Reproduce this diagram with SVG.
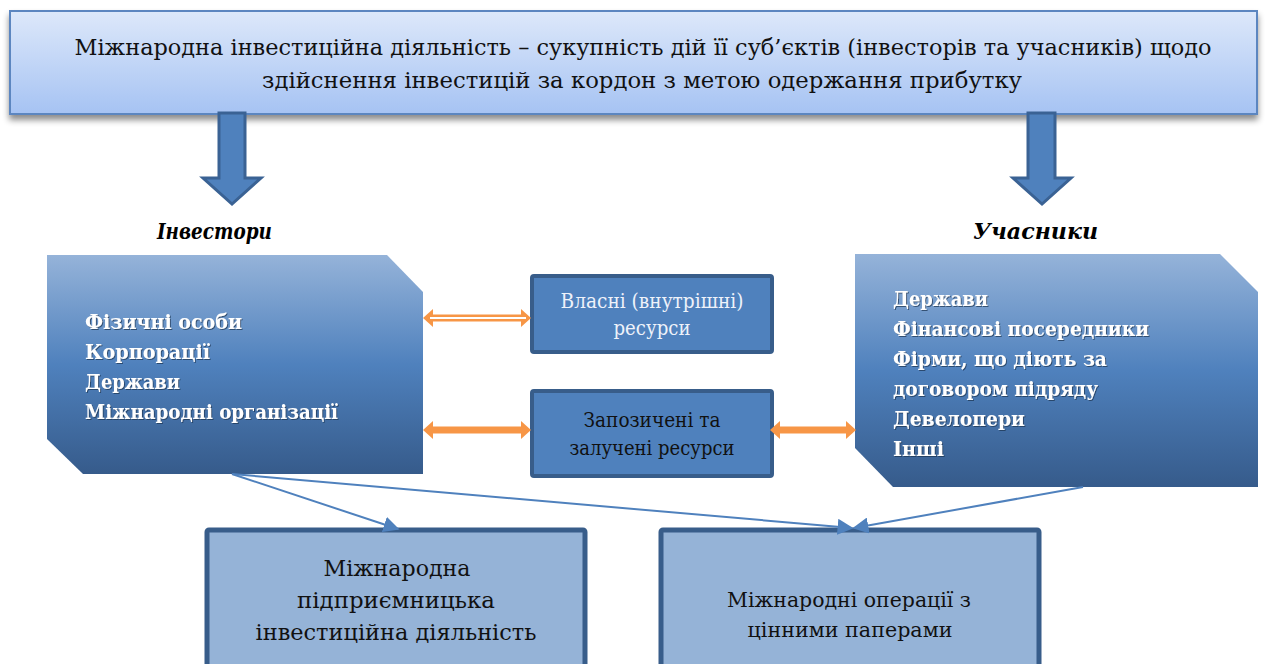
<svg xmlns="http://www.w3.org/2000/svg" width="1266" height="664" viewBox="0 0 1266 664">
<defs>
<linearGradient id="gTop" x1="0" y1="0" x2="0" y2="1">
<stop offset="0" stop-color="#dde8fa"/>
<stop offset="1" stop-color="#a6c3f3"/>
</linearGradient>
<linearGradient id="gSide" x1="0" y1="0" x2="0" y2="1">
<stop offset="0" stop-color="#95b3d9"/>
<stop offset="0.5" stop-color="#4f81bd"/>
<stop offset="1" stop-color="#365b8b"/>
</linearGradient>
<filter id="sh" x="-5%" y="-20%" width="110%" height="150%">
<feDropShadow dx="0" dy="5" stdDeviation="3" flood-color="#000" flood-opacity="0.45"/>
</filter>
<filter id="tsh" x="-5%" y="-20%" width="110%" height="150%">
<feDropShadow dx="1" dy="1" stdDeviation="0.6" flood-color="#1f3350" flood-opacity="0.7"/>
</filter>
<marker id="ah" viewBox="0 0 10 10" refX="9" refY="5" markerWidth="16" markerHeight="16" markerUnits="userSpaceOnUse" orient="auto">
<path d="M0,0 L10,5 L0,10 Z" fill="#4f81bd"/>
</marker>
</defs>
<style>
text{font-family:"DejaVu Serif","Liberation Serif",serif;}
.down{fill:#4f81bd;stroke:#3a6294;stroke-width:3;stroke-linejoin:miter;}
.side{fill:url(#gSide);}
.mid{fill:#4f81bd;stroke:#385d8a;stroke-width:4;}
.bot{fill:#95b3d7;stroke:#385d8a;stroke-width:5;}
.orange{stroke:#f79646;stroke-width:7;fill:none;stroke-linecap:round;}
.con{stroke:#4f81bd;stroke-width:2;fill:none;}
.sidetxt{font-weight:bold;font-size:21px;fill:#ffffff;}
.head{font-weight:bold;font-style:italic;font-size:23px;fill:#000;}
</style>

<g id="top">
<rect x="10" y="11" width="1247" height="103" fill="url(#gTop)" stroke="#5b86c0" stroke-width="2" filter="url(#sh)"/>
<text font-size="22" fill="#111" text-anchor="middle" x="643" y="55" textLength="1137" lengthAdjust="spacingAndGlyphs">Міжнародна інвестиційна діяльність – сукупність дій її суб’єктів (інвесторів та учасників) щодо</text>
<text font-size="22" fill="#111" text-anchor="middle" x="642" y="88" textLength="760" lengthAdjust="spacingAndGlyphs">здійснення інвестицій за кордон з метою одержання прибутку</text>
</g>

<g id="arrow-left">
<path class="down" d="M219,113 L245,113 L245,178 L261,178 L232,204 L203,178 L219,178 Z"/>
</g>
<g id="arrow-right">
<path class="down" d="M1028,113 L1055,113 L1055,178 L1071,178 L1042,204 L1013,178 L1028,178 Z"/>
</g>

<g id="label-investors">
<text class="head" x="157" y="239" textLength="115" lengthAdjust="spacingAndGlyphs">Інвестори</text>
</g>
<g id="label-participants">
<text class="head" x="973" y="239" textLength="125" lengthAdjust="spacingAndGlyphs">Учасники</text>
</g>

<g id="investors">
<path class="side" d="M47,255 L387,255 L423,292 L423,474 L83,474 L47,439 Z"/>
<g class="sidetxt" filter="url(#tsh)">
<text x="85" y="329" textLength="157" lengthAdjust="spacingAndGlyphs">Фізичні особи</text>
<text x="85" y="359" textLength="125" lengthAdjust="spacingAndGlyphs">Корпорації</text>
<text x="85" y="389" textLength="95" lengthAdjust="spacingAndGlyphs">Держави</text>
<text x="85" y="419" textLength="253" lengthAdjust="spacingAndGlyphs">Міжнародні організації</text>
</g>
</g>

<g id="participants">
<path class="side" d="M855,254 L1220,254 L1258,292 L1258,487 L893,487 L855,448 Z"/>
<g class="sidetxt" filter="url(#tsh)">
<text x="893" y="306" textLength="95" lengthAdjust="spacingAndGlyphs">Держави</text>
<text x="893" y="336" textLength="256" lengthAdjust="spacingAndGlyphs">Фінансові посередники</text>
<text x="893" y="366" textLength="214" lengthAdjust="spacingAndGlyphs">Фірми, що діють за</text>
<text x="893" y="396" textLength="205" lengthAdjust="spacingAndGlyphs">договором підряду</text>
<text x="893" y="426" textLength="132" lengthAdjust="spacingAndGlyphs">Девелопери</text>
<text x="893" y="456" textLength="51" lengthAdjust="spacingAndGlyphs">Інші</text>
</g>
</g>

<g id="own-resources">
<rect class="mid" x="532" y="276" width="240" height="76" rx="2"/>
<g font-size="20" fill="#eef2fa" text-anchor="middle">
<text x="652" y="308" textLength="183" lengthAdjust="spacingAndGlyphs">Власні (внутрішні)</text>
<text x="652" y="335" textLength="77" lengthAdjust="spacingAndGlyphs">ресурси</text>
</g>
</g>

<g id="borrowed-resources">
<rect class="mid" x="532" y="391" width="240" height="85" rx="2"/>
<g font-size="20" fill="#111" text-anchor="middle">
<text x="652" y="427" textLength="137" lengthAdjust="spacingAndGlyphs">Запозичені та</text>
<text x="652" y="455" textLength="165" lengthAdjust="spacingAndGlyphs">залучені ресурси</text>
</g>
</g>

<g id="entrepreneurial">
<rect class="bot" x="207" y="530" width="378" height="150" rx="2"/>
<g font-size="23" fill="#111" text-anchor="middle">
<text x="397" y="576" textLength="147" lengthAdjust="spacingAndGlyphs">Міжнародна</text>
<text x="396" y="608" textLength="198" lengthAdjust="spacingAndGlyphs">підприємницька</text>
<text x="396" y="640" textLength="281" lengthAdjust="spacingAndGlyphs">інвестиційна діяльність</text>
</g>
</g>

<g id="securities">
<rect class="bot" x="661" y="530" width="378" height="150" rx="2"/>
<g font-size="21" fill="#111" text-anchor="middle">
<text x="849" y="607" textLength="244" lengthAdjust="spacingAndGlyphs">Міжнародні операції з</text>
<text x="850" y="637" textLength="205" lengthAdjust="spacingAndGlyphs">цінними паперами</text>
</g>
</g>

<g id="connectors">
<g>
<line class="orange" x1="432" y1="318" x2="522" y2="318"/>
<path d="M423,318 L433,309 L433,327 Z" fill="#f79646"/>
<path d="M531,318 L521,309 L521,327 Z" fill="#f79646"/>
<line x1="430" y1="318" x2="526" y2="318" stroke="#ffffff" stroke-width="2"/>
</g>
<g>
<line class="orange" x1="432" y1="430" x2="522" y2="430"/>
<path d="M423,430 L433,421 L433,439 Z" fill="#f79646"/>
<path d="M531,430 L521,421 L521,439 Z" fill="#f79646"/>
</g>
<g>
<line class="orange" x1="779" y1="430" x2="847" y2="430"/>
<path d="M770,430 L780,421 L780,439 Z" fill="#f79646"/>
<path d="M856,430 L846,421 L846,439 Z" fill="#f79646"/>
</g>
<line class="con" x1="232" y1="474" x2="398" y2="529" marker-end="url(#ah)"/>
<line class="con" x1="232" y1="474" x2="852" y2="528" marker-end="url(#ah)"/>
<line class="con" x1="1083" y1="487" x2="854" y2="528" marker-end="url(#ah)"/>
</g>
</svg>
